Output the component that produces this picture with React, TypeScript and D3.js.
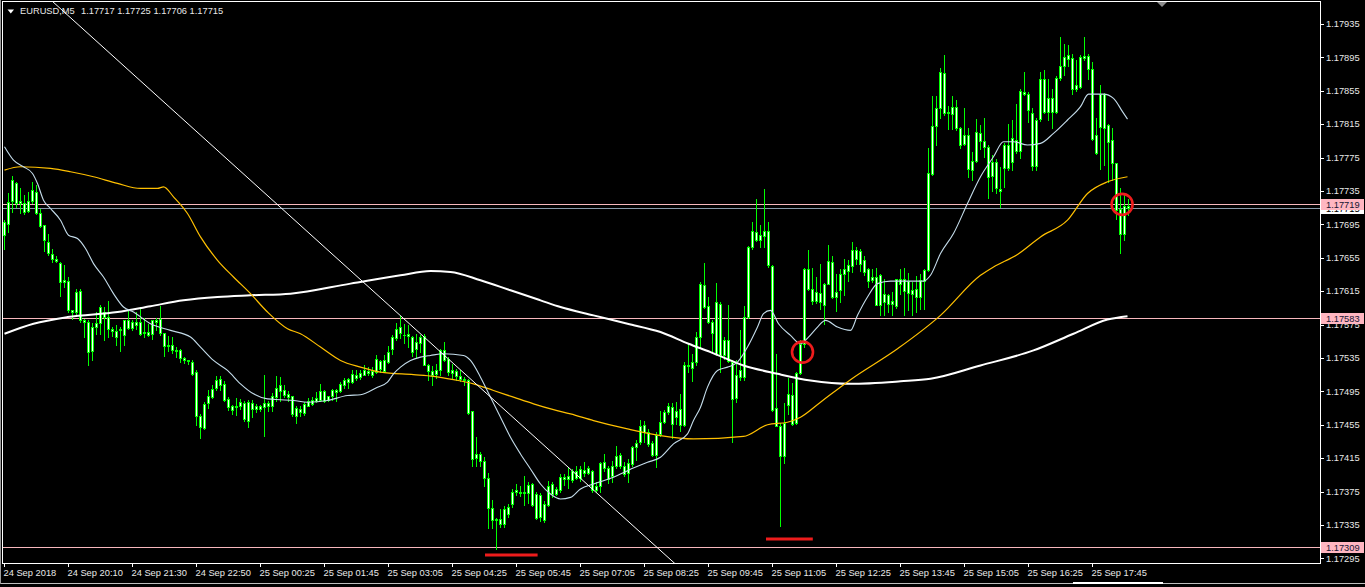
import React from "react";
import * as d3 from "d3";

const W = 1365;
const H = 587;

// EURUSD M5 candles (prices)
const opens = [
1.17682,1.17696,1.17723,1.17745,1.17720,1.17721,1.17711,1.17723,1.17734,1.17709,
1.17694,1.17674,1.17660,1.17653,1.17649,1.17626,1.17627,1.17592,1.17590,1.17615,
1.17580,1.17578,1.17543,1.17572,1.17577,1.17590,1.17584,1.17570,1.17567,1.17568,
1.17562,1.17581,1.17571,1.17578,1.17578,1.17565,1.17566,1.17564,1.17580,1.17582,
1.17565,1.17549,1.17550,1.17545,1.17545,1.17535,1.17533,1.17530,1.17518,1.17466,
1.17451,1.17481,1.17488,1.17499,1.17510,1.17504,1.17486,1.17477,1.17476,1.17477,
1.17481,1.17460,1.17481,1.17474,1.17477,1.17476,1.17481,1.17477,1.17488,1.17495,
1.17497,1.17492,1.17490,1.17466,1.17474,1.17469,1.17478,1.17480,1.17483,1.17485,
1.17495,1.17485,1.17489,1.17497,1.17495,1.17503,1.17506,1.17506,1.17515,1.17512,
1.17515,1.17519,1.17515,1.17518,1.17531,1.17519,1.17530,1.17546,1.17559,1.17565,
1.17563,1.17561,1.17560,1.17546,1.17553,1.17561,1.17526,1.17519,1.17516,1.17520,
1.17545,1.17534,1.17517,1.17519,1.17513,1.17510,1.17509,1.17471,1.17415,1.17420,
1.17412,1.17391,1.17355,1.17341,1.17342,1.17336,1.17348,1.17360,1.17375,1.17375,
1.17373,1.17373,1.17384,1.17372,1.17344,1.17360,1.17359,1.17384,1.17372,1.17377,
1.17392,1.17390,1.17389,1.17399,1.17391,1.17401,1.17397,1.17400,1.17377,1.17382,
1.17410,1.17403,1.17393,1.17405,1.17419,1.17405,1.17397,1.17408,1.17428,1.17434,
1.17455,1.17446,1.17433,1.17419,1.17444,1.17458,1.17470,1.17476,1.17464,1.17474,
1.17455,1.17526,1.17523,1.17530,1.17560,1.17622,1.17597,1.17578,1.17540,1.17600,
1.17538,1.17556,1.17530,1.17487,1.17512,1.17512,1.17584,1.17668,1.17686,1.17676,
1.17681,1.17687,1.17645,1.17475,1.17453,1.17418,1.17479,1.17491,1.17457,1.17517,
1.17552,1.17642,1.17617,1.17603,1.17613,1.17598,1.17624,1.17650,1.17608,1.17616,
1.17635,1.17639,1.17645,1.17664,1.17663,1.17652,1.17642,1.17628,1.17632,1.17599,
1.17612,1.17610,1.17600,1.17597,1.17630,1.17629,1.17613,1.17616,1.17608,1.17608,
1.17627,1.17640,1.17755,1.17813,1.17834,1.17876,1.17828,1.17827,1.17836,1.17810,
1.17791,1.17802,1.17760,1.17771,1.17805,1.17795,1.17788,1.17753,1.17770,1.17737,
1.17762,1.17790,1.17770,1.17796,1.17783,1.17853,1.17851,1.17828,1.17765,1.17821,
1.17869,1.17830,1.17846,1.17829,1.17870,1.17885,1.17898,1.17894,1.17857,1.17859,
1.17894,1.17897,1.17881,1.17802,1.17812,1.17851,1.17814,1.17796,1.17769,1.17714,
1.17683,1.17717];

const highs = [
1.17700,1.17732,1.17753,1.17746,1.17738,1.17730,1.17734,1.17746,1.17742,1.17713,
1.17694,1.17683,1.17665,1.17657,1.17650,1.17646,1.17632,1.17592,1.17618,1.17618,
1.17582,1.17580,1.17577,1.17590,1.17598,1.17596,1.17603,1.17572,1.17574,1.17572,
1.17581,1.17591,1.17581,1.17590,1.17596,1.17583,1.17576,1.17581,1.17583,1.17597,
1.17565,1.17561,1.17560,1.17548,1.17546,1.17536,1.17533,1.17532,1.17521,1.17468,
1.17482,1.17497,1.17502,1.17513,1.17513,1.17507,1.17488,1.17479,1.17487,1.17486,
1.17483,1.17485,1.17485,1.17480,1.17479,1.17515,1.17484,1.17493,1.17513,1.17512,
1.17502,1.17495,1.17490,1.17477,1.17477,1.17482,1.17487,1.17488,1.17494,1.17504,
1.17497,1.17490,1.17498,1.17498,1.17506,1.17511,1.17511,1.17520,1.17521,1.17521,
1.17526,1.17524,1.17524,1.17538,1.17532,1.17538,1.17549,1.17562,1.17577,1.17585,
1.17576,1.17575,1.17561,1.17564,1.17563,1.17564,1.17528,1.17525,1.17528,1.17546,
1.17554,1.17536,1.17528,1.17522,1.17520,1.17512,1.17510,1.17472,1.17440,1.17422,
1.17416,1.17397,1.17365,1.17343,1.17354,1.17358,1.17360,1.17378,1.17384,1.17382,
1.17393,1.17386,1.17385,1.17374,1.17373,1.17364,1.17388,1.17386,1.17380,1.17396,
1.17396,1.17404,1.17402,1.17405,1.17405,1.17410,1.17405,1.17401,1.17386,1.17410,
1.17420,1.17405,1.17412,1.17429,1.17421,1.17410,1.17414,1.17429,1.17437,1.17461,
1.17459,1.17450,1.17436,1.17446,1.17472,1.17473,1.17481,1.17481,1.17482,1.17492,
1.17530,1.17553,1.17540,1.17566,1.17626,1.17649,1.17608,1.17580,1.17625,1.17602,
1.17560,1.17598,1.17532,1.17532,1.17568,1.17597,1.17669,1.17698,1.17725,1.17694,
1.17737,1.17698,1.17646,1.17540,1.17457,1.17481,1.17511,1.17505,1.17518,1.17557,
1.17643,1.17664,1.17643,1.17632,1.17647,1.17625,1.17670,1.17657,1.17636,1.17642,
1.17654,1.17652,1.17674,1.17668,1.17665,1.17657,1.17643,1.17642,1.17643,1.17635,
1.17630,1.17612,1.17614,1.17630,1.17642,1.17643,1.17637,1.17626,1.17633,1.17636,
1.17641,1.17786,1.17849,1.17849,1.17882,1.17898,1.17837,1.17849,1.17844,1.17812,
1.17834,1.17810,1.17782,1.17821,1.17814,1.17823,1.17790,1.17778,1.17773,1.17764,
1.17792,1.17815,1.17820,1.17839,1.17857,1.17877,1.17853,1.17834,1.17822,1.17878,
1.17880,1.17869,1.17857,1.17873,1.17920,1.17911,1.17910,1.17899,1.17892,1.17898,
1.17919,1.17899,1.17889,1.17822,1.17862,1.17852,1.17815,1.17810,1.17769,1.17738,
1.17730,1.17725];

const lows = [
1.17665,1.17686,1.17710,1.17716,1.17709,1.17708,1.17710,1.17720,1.17708,1.17692,
1.17663,1.17658,1.17650,1.17650,1.17609,1.17620,1.17590,1.17582,1.17588,1.17578,
1.17560,1.17527,1.17532,1.17564,1.17564,1.17556,1.17560,1.17561,1.17550,1.17543,
1.17550,1.17570,1.17569,1.17570,1.17562,1.17560,1.17561,1.17558,1.17568,1.17562,
1.17537,1.17543,1.17541,1.17536,1.17530,1.17529,1.17528,1.17514,1.17455,1.17439,
1.17450,1.17475,1.17487,1.17497,1.17496,1.17484,1.17473,1.17468,1.17467,1.17474,
1.17460,1.17452,1.17464,1.17470,1.17472,1.17442,1.17471,1.17471,1.17484,1.17484,
1.17488,1.17484,1.17466,1.17457,1.17466,1.17467,1.17477,1.17479,1.17482,1.17483,
1.17482,1.17483,1.17485,1.17484,1.17494,1.17499,1.17499,1.17505,1.17508,1.17510,
1.17514,1.17514,1.17512,1.17517,1.17518,1.17518,1.17529,1.17540,1.17556,1.17559,
1.17553,1.17548,1.17537,1.17536,1.17542,1.17526,1.17508,1.17503,1.17511,1.17515,
1.17531,1.17515,1.17511,1.17508,1.17507,1.17502,1.17468,1.17405,1.17406,1.17405,
1.17382,1.17331,1.17331,1.17306,1.17332,1.17332,1.17345,1.17357,1.17371,1.17370,
1.17359,1.17361,1.17358,1.17342,1.17340,1.17339,1.17358,1.17368,1.17371,1.17375,
1.17383,1.17379,1.17386,1.17390,1.17388,1.17394,1.17396,1.17375,1.17374,1.17374,
1.17400,1.17385,1.17386,1.17403,1.17403,1.17393,1.17386,1.17406,1.17413,1.17432,
1.17434,1.17430,1.17418,1.17404,1.17441,1.17457,1.17468,1.17439,1.17456,1.17448,
1.17453,1.17518,1.17507,1.17527,1.17548,1.17595,1.17577,1.17542,1.17538,1.17518,
1.17534,1.17530,1.17434,1.17482,1.17509,1.17509,1.17583,1.17666,1.17675,1.17668,
1.17668,1.17644,1.17472,1.17453,1.17334,1.17409,1.17468,1.17455,1.17456,1.17516,
1.17548,1.17616,1.17600,1.17601,1.17594,1.17576,1.17623,1.17607,1.17591,1.17602,
1.17610,1.17627,1.17638,1.17648,1.17639,1.17634,1.17620,1.17626,1.17598,1.17587,
1.17586,1.17590,1.17586,1.17595,1.17612,1.17587,1.17592,1.17587,1.17590,1.17594,
1.17594,1.17639,1.17754,1.17790,1.17823,1.17826,1.17809,1.17809,1.17808,1.17787,
1.17790,1.17752,1.17748,1.17770,1.17785,1.17776,1.17727,1.17735,1.17732,1.17716,
1.17740,1.17760,1.17760,1.17781,1.17774,1.17850,1.17818,1.17760,1.17760,1.17819,
1.17828,1.17820,1.17810,1.17828,1.17868,1.17874,1.17885,1.17851,1.17855,1.17858,
1.17892,1.17869,1.17796,1.17779,1.17761,1.17766,1.17746,1.17748,1.17702,1.17661,
1.17676,1.17706];

const closes = [
1.17698,1.17722,1.17748,1.17720,1.17723,1.17710,1.17723,1.17736,1.17709,1.17693,
1.17676,1.17661,1.17654,1.17651,1.17626,1.17628,1.17592,1.17590,1.17614,1.17580,
1.17578,1.17542,1.17572,1.17577,1.17596,1.17584,1.17570,1.17567,1.17560,1.17570,
1.17581,1.17571,1.17578,1.17574,1.17564,1.17566,1.17563,1.17580,1.17578,1.17565,
1.17549,1.17550,1.17545,1.17543,1.17535,1.17533,1.17531,1.17516,1.17466,1.17452,
1.17480,1.17490,1.17498,1.17509,1.17502,1.17485,1.17476,1.17473,1.17477,1.17482,
1.17462,1.17482,1.17474,1.17477,1.17474,1.17481,1.17477,1.17490,1.17499,1.17502,
1.17491,1.17488,1.17468,1.17475,1.17470,1.17480,1.17483,1.17485,1.17487,1.17495,
1.17483,1.17489,1.17496,1.17494,1.17504,1.17508,1.17510,1.17516,1.17511,1.17517,
1.17520,1.17517,1.17519,1.17534,1.17522,1.17532,1.17542,1.17560,1.17570,1.17572,
1.17562,1.17564,1.17542,1.17554,1.17560,1.17527,1.17519,1.17514,1.17520,1.17544,
1.17533,1.17518,1.17520,1.17513,1.17510,1.17508,1.17469,1.17414,1.17420,1.17412,
1.17391,1.17355,1.17341,1.17342,1.17336,1.17354,1.17357,1.17375,1.17377,1.17373,
1.17375,1.17383,1.17359,1.17343,1.17371,1.17341,1.17382,1.17372,1.17378,1.17392,
1.17390,1.17394,1.17400,1.17391,1.17402,1.17397,1.17403,1.17377,1.17382,1.17409,
1.17403,1.17390,1.17405,1.17418,1.17405,1.17396,1.17409,1.17428,1.17433,1.17454,
1.17446,1.17432,1.17419,1.17443,1.17458,1.17470,1.17478,1.17456,1.17471,1.17455,
1.17527,1.17525,1.17530,1.17560,1.17624,1.17596,1.17578,1.17565,1.17602,1.17538,
1.17557,1.17531,1.17486,1.17514,1.17521,1.17584,1.17668,1.17687,1.17676,1.17682,
1.17687,1.17646,1.17473,1.17454,1.17417,1.17457,1.17492,1.17456,1.17517,1.17552,
1.17642,1.17618,1.17603,1.17614,1.17602,1.17623,1.17651,1.17608,1.17614,1.17635,
1.17641,1.17646,1.17664,1.17653,1.17648,1.17638,1.17627,1.17632,1.17599,1.17634,
1.17602,1.17600,1.17603,1.17629,1.17623,1.17615,1.17627,1.17612,1.17618,1.17628,
1.17640,1.17756,1.17813,1.17834,1.17877,1.17828,1.17829,1.17836,1.17810,1.17790,
1.17802,1.17761,1.17771,1.17806,1.17795,1.17788,1.17752,1.17770,1.17738,1.17735,
1.17790,1.17763,1.17798,1.17783,1.17855,1.17851,1.17832,1.17765,1.17820,1.17869,
1.17830,1.17846,1.17829,1.17870,1.17885,1.17896,1.17893,1.17857,1.17862,1.17895,
1.17897,1.17881,1.17797,1.17781,1.17851,1.17811,1.17794,1.17768,1.17712,1.17683,
1.17717,1.17715];

// Moving averages (bar index, price)
const fastMaBars = [0,2.25,4.75,7,8.25,9.75,11.5,14,16,18.25,20.25,22.25,24.75,27.25,29.75,32.25,36.5,41.5,46.5,49,52.25,55.75,59,62.25,65.75,69,72.25,75.75,80.75,85.75,89,93.25,95.75,97.25,99,101.5,104,106.5,109.75,114.75,116.5,119,121.5,124,126.5,129,131.5,134,136.5,139,141.5,144,147.25,152.25,155.75,160.75,164,167.25,170.75,172.25,174,175.75,178.25,180.75,183.25,185.75,188.25,189.75,191.5,193.5,196.5,199,201,203.25,205.25,208.25,211.5,213.25,215.75,218.25,221.5,225.75,229.75,231.5,234,237.25,240.75,244,247.25,249.75,252.25,255.75,259,262.25,265.75,269,271,274.75,277.25,279.5,280.75];
const fastMaVals = [1.17788,1.17772,1.17764,1.17756,1.17744,1.17724,1.17714,1.17700,1.17682,1.17678,1.17666,1.17648,1.17632,1.17612,1.17596,1.17590,1.17576,1.17568,1.17560,1.17548,1.17532,1.17520,1.17504,1.17492,1.17486,1.17485,1.17484,1.17482,1.17484,1.17490,1.17491,1.17500,1.17506,1.17516,1.17524,1.17532,1.17536,1.17538,1.17540,1.17538,1.17532,1.17512,1.17488,1.17464,1.17440,1.17420,1.17402,1.17384,1.17372,1.17366,1.17368,1.17378,1.17384,1.17392,1.17400,1.17410,1.17416,1.17432,1.17444,1.17460,1.17476,1.17500,1.17520,1.17524,1.17530,1.17548,1.17572,1.17588,1.17592,1.17576,1.17562,1.17552,1.17560,1.17572,1.17580,1.17572,1.17568,1.17586,1.17608,1.17624,1.17627,1.17627,1.17627,1.17634,1.17660,1.17684,1.17720,1.17752,1.17776,1.17794,1.17794,1.17790,1.17792,1.17804,1.17820,1.17836,1.17851,1.17851,1.17846,1.17830,1.17821];

const midMaBars = [0,4,11.5,16.5,22.25,28.25,34,38.25,39.75,42.25,45.75,49,53.25,57.25,61.5,65.75,70.75,74,79,84,89,94,102.25,107.25,112.25,117.25,122.25,127.25,132.25,137.25,141.5,147.25,155.75,164,172.25,184.75,190.75,195.75,199,204,211.5,223.25,234,244,247.25,253.25,259,265.75,270.75,275.75,280.75];
const midMaVals = [1.17760,1.17764,1.17762,1.17758,1.17752,1.17744,1.17738,1.17738,1.17740,1.17728,1.17708,1.17680,1.17652,1.17632,1.17612,1.17590,1.17570,1.17564,1.17548,1.17532,1.17524,1.17518,1.17515,1.17513,1.17509,1.17504,1.17496,1.17488,1.17480,1.17473,1.17468,1.17460,1.17450,1.17442,1.17438,1.17441,1.17455,1.17458,1.17464,1.17482,1.17509,1.17546,1.17586,1.17634,1.17644,1.17659,1.17680,1.17700,1.17732,1.17746,1.17752];

const slowMaBars = [0,7.25,15.75,28.25,36.5,44.75,53.25,61.5,71.5,86.5,99,106.5,111.5,119,126.5,134,139,147.25,155.75,164,171,176.5,184.75,193.25,201.5,211.5,224,231.5,244,257.25,267.25,275.75,280.75];
const slowMaVals = [1.17564,1.17576,1.17584,1.17590,1.17597,1.17604,1.17608,1.17610,1.17612,1.17624,1.17634,1.17639,1.17638,1.17628,1.17616,1.17604,1.17596,1.17586,1.17576,1.17566,1.17552,1.17542,1.17526,1.17516,1.17508,1.17504,1.17507,1.17510,1.17526,1.17544,1.17564,1.17581,1.17585];

// Axis
const priceTicks = [1.17935,1.17895,1.17855,1.17815,1.17775,1.17735,1.17695,1.17655,1.17615,1.17575,1.17535,1.17495,1.17455,1.17415,1.17375,1.17335,1.17295];
const timeLabels = ["24 Sep 2018","24 Sep 20:10","24 Sep 21:30","24 Sep 22:50","25 Sep 00:25","25 Sep 01:45","25 Sep 03:05","25 Sep 04:25","25 Sep 05:45","25 Sep 07:05","25 Sep 08:25","25 Sep 09:45","25 Sep 11:05","25 Sep 12:25","25 Sep 13:45","25 Sep 15:05","25 Sep 16:25","25 Sep 17:45"];
const timeLabelBars = [0,16,32,48,64,80,96,112,128,144,160,176,192,208,224,240,256,272];

// Objects
const levelPrices = [1.17719, 1.17583, 1.17309];
const bidPrice = 1.17715;
const trendBars = [12, 168];
const trendPrices = [1.17962, 1.17287];
const circleBars = [199.5, 279.4];
const circlePrices = [1.17542, 1.17719];
const redSegStart = [120.25, 190.5];
const redSegEnd = [133.4, 202.2];
const redSegPrices = [1.17299, 1.17318];
const title = "EURUSD,M5";
const titleValues = "1.17717 1.17725 1.17706 1.17715";

const FONT = "'Liberation Sans', Arial, sans-serif";
const FS = 9.3;

export default function App() {
  const n = opens.length;
  const x = d3.scaleLinear().domain([0, n - 1]).range([4, 4 + 4 * (n - 1)]);
  const y = d3.scaleLinear().domain([1.17295, 1.17935]).range([558.3, 24]);
  const py = (p: number) => Math.round(y(p));

  const mkLine = (bars: number[], vals: number[]) =>
    d3.line<number>().x((_, i) => x(bars[i]) + 0.5).y((v) => y(v)).curve(d3.curveMonotoneX)(vals) || "";

  const left = 2.5, top = 1.5, right = 1320.5, bottom = 563.5;

  return (
    <div style={{ position: "absolute", left: 0, top: 0, width: W, height: H, background: "#000" }}>
      <svg width={W} height={H} style={{ display: "block", background: "#000" }}>
        <defs>
          <clipPath id="plot">
            <rect x={3} y={2} width={1317} height={561} />
          </clipPath>
        </defs>
        <rect x={0} y={0} width={W} height={H} fill="#000" />

        <g clipPath="url(#plot)">
          {levelPrices.map((p, i) => (
            <line key={"lv" + i} x1={3} x2={1320} y1={py(p) + 0.5} y2={py(p) + 0.5} stroke="#f7b8bd" strokeWidth={1} shapeRendering="crispEdges" />
          ))}
          <line x1={3} x2={1320} y1={py(bidPrice) + 0.5} y2={py(bidPrice) + 0.5} stroke="#8a9aaa" strokeWidth={1} shapeRendering="crispEdges" />

          {opens.map((o, i) => {
            const c = closes[i];
            const cx = Math.round(x(i));
            const yh = py(highs[i]);
            const yl = py(lows[i]);
            const yt = py(Math.max(o, c));
            const yb = py(Math.min(o, c));
            return (
              <g key={"c" + i} shapeRendering="crispEdges">
                <rect x={cx} y={yh} width={1} height={Math.max(1, yl - yh + 1)} fill="#00ff00" />
                {yb - yt >= 1 ? (
                  <rect x={cx - 0.5} y={yt + 0.5} width={2} height={yb - yt} fill="#ffffff" stroke="#00ff00" strokeWidth={1} />
                ) : (
                  <rect x={cx - 1} y={yt} width={3} height={1} fill="#00ff00" />
                )}
              </g>
            );
          })}

          <path d={mkLine(slowMaBars, slowMaVals)} fill="none" stroke="#ffffff" strokeWidth={2} />
          <path d={mkLine(midMaBars, midMaVals)} fill="none" stroke="#ffc000" strokeWidth={1.2} />
          <path d={mkLine(fastMaBars, fastMaVals)} fill="none" stroke="#c4dcea" strokeWidth={1.1} />
        </g>

        {/* frame */}
        <rect x={left} y={top} width={right - left} height={bottom - top} fill="none" stroke="#ffffff" strokeWidth={1} shapeRendering="crispEdges" />

        {/* title */}
        <rect x={3} y={2} width={222} height={15} fill="#000" />
        <polygon points="7.5,9.5 14,9.5 10.75,13.5" fill="#ffffff" />
        <text x={20} y={14} fill="#e8e8e8" fontFamily={FONT} fontSize={FS}>{title}</text>
        <text x={81} y={14} fill="#e8e8e8" fontFamily={FONT} fontSize={FS}>{titleValues}</text>

        <g clipPath="url(#plot)">
          <line x1={x(trendBars[0]) + 0.5} y1={y(trendPrices[0])} x2={x(trendBars[1]) + 0.5} y2={y(trendPrices[1])} stroke="#ffffff" strokeWidth={1} />
          {circleBars.map((b, i) => (
            <circle key={"ci" + i} cx={x(b) + 0.5} cy={y(circlePrices[i])} r={10.5} fill="none" stroke="#ee1c1c" strokeWidth={2.6} />
          ))}
          {redSegStart.map((b, i) => (
            <line key={"rs" + i} x1={x(b)} x2={x(redSegEnd[i])} y1={y(redSegPrices[i])} y2={y(redSegPrices[i])} stroke="#ee1c1c" strokeWidth={3} />
          ))}
        </g>

        {/* shift marker */}
        <polygon points="1157,2 1167,2 1162,7" fill="#8c8c8c" />

        {/* price axis */}
        {priceTicks.map((p, i) => (
          <g key={"pt" + i}>
            <line x1={1321} x2={1324} y1={py(p) + 0.5} y2={py(p) + 0.5} stroke="#ffffff" shapeRendering="crispEdges" />
            <text x={1326} y={y(p)} dy="0.35em" fill="#e8e8e8" fontFamily={FONT} fontSize={FS}>{p.toFixed(5)}</text>
          </g>
        ))}
        {/* bid label */}
        <rect x={1321} y={py(bidPrice) - 5} width={43} height={11} fill="#ffffff" />
        <text x={1326} y={py(bidPrice) + 0.5} dy="0.35em" fill="#000" fontFamily={FONT} fontSize={FS}>{bidPrice.toFixed(5)}</text>
        {levelPrices.map((p, i) => (
          <g key={"lb" + i}>
            <rect x={1321} y={py(p) - 5} width={43} height={11} fill="#ffb6c1" />
            <text x={1326} y={py(p) + 0.5} dy="0.35em" fill="#141432" fontFamily={FONT} fontSize={FS}>{p.toFixed(5)}</text>
          </g>
        ))}

        {/* time axis */}
        {timeLabelBars.map((b, i) => (
          <g key={"tl" + i}>
            <line x1={Math.round(x(b)) + 0.5} x2={Math.round(x(b)) + 0.5} y1={564} y2={567} stroke="#ffffff" shapeRendering="crispEdges" />
            <text x={Math.round(x(b)) - 0.5} y={576} fill="#e8e8e8" fontFamily={FONT} fontSize={FS}>{timeLabels[i]}</text>
          </g>
        ))}

        {/* window bottom */}
        <line x1={0} x2={W} y1={583.5} y2={583.5} stroke="#bdbdbd" shapeRendering="crispEdges" />
        <rect x={1073} y={582} width={90} height={2} fill="#ffffff" />
        <line x1={0.5} x2={0.5} y1={0} y2={584} stroke="#9a9a9a" shapeRendering="crispEdges" />
      </svg>
    </div>
  );
}
